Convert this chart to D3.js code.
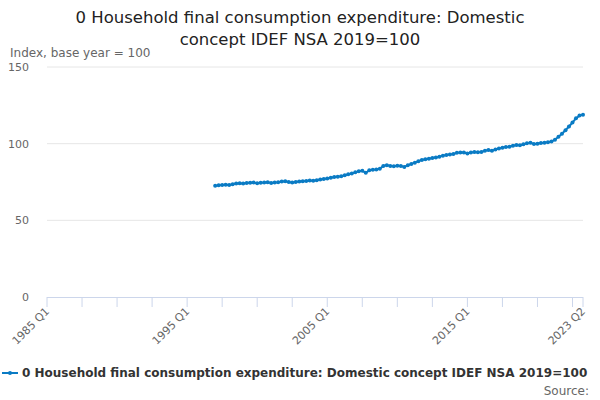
<!DOCTYPE html>
<html><head><meta charset="utf-8">
<script src="https://cdn.jsdelivr.net/npm/d3@7"></script>
<style>body{margin:0;font-family:"DejaVu Sans",sans-serif;background:#fff}</style>
</head><body>
<svg id="chart" width="600" height="400"></svg>
<script>
var startYear = 1997;
var values = [
  72.5,72.8,73.0,73.2, 73.0,73.5,74.0,74.2, 74.0,74.3,74.5,74.6, 74.2,74.5,74.6,74.8,
  74.4,74.7,74.9,75.3, 75.5,75.0,74.6,75.0, 75.3,75.5,75.7,76.0, 75.8,76.2,76.6,77.0,
  77.3,77.8,78.2,78.5, 78.8,79.4,80.0,80.6, 81.3,82.0,82.3,81.0, 82.6,83.0,83.2,83.6,
  85.5,86.0,85.5,85.3, 85.6,85.4,84.8,86.0, 86.8,87.6,88.6,89.4, 89.8,90.2,90.6,91.0,
  91.4,92.2,92.6,92.9, 93.3,94.0,94.3,94.2, 93.6,94.2,94.6,94.4, 94.6,95.4,95.8,95.3,
  96.2,96.8,97.4,97.8, 98.0,98.6,99.1,99.0, 99.6,100.2,100.6,99.8, 100.0,100.4,100.6,101.0,
  101.4,102.6,104.5,106.5, 108.8,111.2,113.8,116.5, 118.3,118.8
];
var yTicks = [0, 50, 100, 150];
var xLabels = ["1985 Q1", "1995 Q1", "2005 Q1", "2015 Q1", "2023 Q2"];
var seriesName = "0 Household final consumption expenditure: Domestic concept IDEF NSA 2019=100";
var color = "#0a7bc4";

// quarter index from 1985 Q1
var qIndex = function (label) {
  var p = label.split(" Q");
  return (+p[0] - 1985) * 4 + (+p[1] - 1);
};
var data = values.map(function (v, i) { return {q: (startYear - 1985) * 4 + i, v: v}; });
var lastQ = qIndex("2023 Q2");

var svg = d3.select("#chart");
var x = d3.scaleLinear().domain([0, lastQ]).range([47, 583]);
var y = d3.scaleLinear().domain([0, 150]).range([297, 67]);

svg.append("text").attr("x", 300).attr("y", 23).attr("text-anchor", "middle")
  .attr("font-size", 16.5).attr("fill", "#222")
  .text("0 Household final consumption expenditure: Domestic");
svg.append("text").attr("x", 300).attr("y", 45).attr("text-anchor", "middle")
  .attr("font-size", 16.5).attr("fill", "#222")
  .text("concept IDEF NSA 2019=100");
svg.append("text").attr("x", 10).attr("y", 57).attr("font-size", 12)
  .attr("fill", "#666").text("Index, base year = 100");

// grid + y labels
svg.selectAll("line.grid").data(yTicks.filter(function (d) { return d > 0; })).enter()
  .append("line").attr("x1", 47).attr("x2", 583)
  .attr("y1", function (d) { return y(d); }).attr("y2", function (d) { return y(d); })
  .attr("stroke", "#e6e6e6");
svg.selectAll("text.yl").data(yTicks).enter().append("text")
  .attr("x", 29).attr("y", function (d) { return y(d) + 4; })
  .attr("text-anchor", "end").attr("font-size", 11).attr("fill", "#666")
  .text(function (d) { return d; });

// x axis
svg.append("line").attr("x1", 47).attr("x2", 583).attr("y1", 297.5).attr("y2", 297.5)
  .attr("stroke", "#ccd6eb");
var tickQs = d3.range(0, lastQ, 10).concat([lastQ]);
svg.selectAll("line.xt").data(tickQs).enter().append("line")
  .attr("x1", function (d) { return x(d); }).attr("x2", function (d) { return x(d); })
  .attr("y1", 297).attr("y2", 307).attr("stroke", "#ccd6eb");
svg.selectAll("text.xl").data(xLabels).enter().append("text")
  .attr("transform", function (d) { return "translate(" + (x(qIndex(d)) + 3) + ",312) rotate(-45)"; })
  .attr("text-anchor", "end").attr("font-size", 11).attr("fill", "#666")
  .text(function (d) { return d; });

// series
var line = d3.line().x(function (d) { return x(d.q); }).y(function (d) { return y(d.v); });
svg.append("path").datum(data).attr("d", line).attr("fill", "none")
  .attr("stroke", color).attr("stroke-width", 2);
svg.selectAll("circle.pt").data(data).enter().append("circle")
  .attr("cx", function (d) { return x(d.q); }).attr("cy", function (d) { return y(d.v); })
  .attr("r", 2).attr("fill", color);

// legend
svg.append("line").attr("x1", 2).attr("x2", 18).attr("y1", 373).attr("y2", 373)
  .attr("stroke", color).attr("stroke-width", 2);
svg.append("circle").attr("cx", 10).attr("cy", 373).attr("r", 2).attr("fill", color);
svg.append("text").attr("x", 22).attr("y", 377).attr("font-size", 12)
  .attr("font-weight", "bold").attr("fill", "#333").text(seriesName);
svg.append("text").attr("x", 589).attr("y", 395).attr("text-anchor", "end")
  .attr("font-size", 12).attr("fill", "#666").text("Source:");
</script>
</body></html>
